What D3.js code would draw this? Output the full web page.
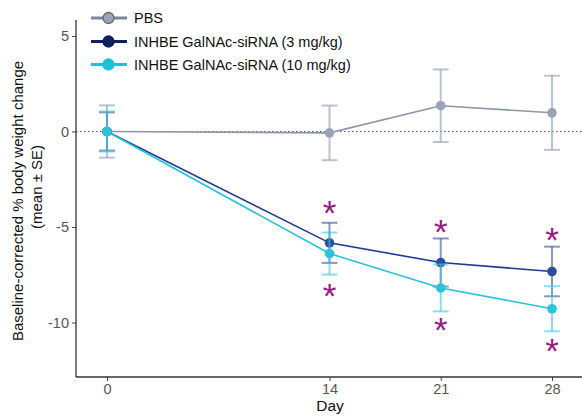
<!DOCTYPE html>
<html><head><meta charset="utf-8">
<script src="https://cdn.jsdelivr.net/npm/d3@7"></script>
<style>body{margin:0;background:#fff}svg{display:block;font-family:"Liberation Sans",Arial,sans-serif}</style>
</head><body><svg id="c" width="582" height="416"></svg>
<script>
const days = [0, 14, 21, 28];
const seriesNames = ["PBS", "INHBE GalNAc-siRNA (3 mg/kg)", "INHBE GalNAc-siRNA (10 mg/kg)"];
const pbsMean = [0, -0.07, 1.35, 0.98];
const pbsSE = [1.37, 1.43, 1.9, 1.94];
const lowMean = [0, -5.83, -6.86, -7.33];
const lowSE = [1.0, 1.05, 1.26, 1.3];
const highMean = [0, -6.39, -8.19, -9.28];
const highSE = [1.05, 1.1, 1.23, 1.18];
const yTicks = [-10, -5, 0, 5];
const xTicks = [0, 14, 21, 28];
const sigAbove = [null, -3.85, -4.82, -5.29];   // asterisk positions (3 mg/kg)
const sigBelow = [null, -8.2, -10.0, -11.05];   // asterisk positions (10 mg/kg)

const styles = [
  {line:"#8d97ab", bar:"rgba(150,162,185,0.65)", pt:"#9aa3b6", legFill:"#9aa5b8", legStroke:"#5d6679"},
  {line:"#1d3a8f", bar:"rgba(55,80,150,0.6)", pt:"#2a4f9f", legFill:"#0c1f5f", legStroke:"#0c1f5f"},
  {line:"#25c3dc", bar:"rgba(60,200,225,0.6)", pt:"#2cc4dc", legFill:"#18c3da", legStroke:"#18c3da"}
];
const means = [pbsMean, lowMean, highMean];
const ses = [pbsSE, lowSE, highSE];

const svg = d3.select("#c");
const x = d3.scaleLinear().domain([0, 28]).range([107, 552]);
const y = d3.scaleLinear().domain([-10, 5]).range([322.5, 36]);
const xLeft = 76, xRight = 582, yTop = 20, yBottom = 377;

// zero dotted reference
svg.append("line").attr("x1", xLeft).attr("x2", xRight).attr("y1", y(0)).attr("y2", y(0))
  .attr("stroke", "#555").attr("stroke-width", 1.2).attr("stroke-dasharray", "1.5,2.5");

// axes
const ya = svg.append("g").attr("transform", `translate(${xLeft},0)`)
  .call(d3.axisLeft(y).tickValues(yTicks).tickSize(4).tickPadding(3).tickFormat(d => d));
ya.select(".domain").remove();
ya.selectAll("line").attr("stroke", "#444");
ya.selectAll("text").attr("fill", "#555").attr("font-size", 14.5).attr("font-family", "Liberation Sans, Arial, sans-serif");
svg.append("line").attr("x1", xLeft).attr("x2", xLeft).attr("y1", yTop).attr("y2", yBottom).attr("stroke", "#333").attr("stroke-width", 1.3);

const xa = svg.append("g").attr("transform", `translate(0,${yBottom})`)
  .call(d3.axisBottom(x).tickValues(xTicks).tickSize(4).tickPadding(3).tickFormat(d => d));
xa.select(".domain").remove();
xa.selectAll("line").attr("stroke", "#444");
xa.selectAll("text").attr("fill", "#555").attr("font-size", 14.5).attr("font-family", "Liberation Sans, Arial, sans-serif");
svg.append("line").attr("x1", xLeft).attr("x2", xRight).attr("y1", yBottom).attr("y2", yBottom).attr("stroke", "#333").attr("stroke-width", 1.3);

// axis titles
svg.append("text").attr("x", 330).attr("y", 411).attr("text-anchor", "middle").attr("font-size", 15.5).attr("fill", "#111").text("Day");
svg.append("text").attr("transform", "translate(23,201) rotate(-90)").attr("text-anchor", "middle")
  .attr("font-size", 15).attr("fill", "#111").text("Baseline-corrected % body weight change");
svg.append("text").attr("transform", "translate(42,187) rotate(-90)").attr("text-anchor", "middle")
  .attr("font-size", 15).attr("fill", "#111").text("(mean ± SE)");

// series
const capHalf = 0.5;
const line = d3.line().x(d => x(d[0])).y(d => y(d[1]));
means.forEach((m, si) => {
  const g = svg.append("g");
  const st = styles[si];
  const pts = days.map((d, i) => [d, m[i], ses[si][i]]);
  pts.forEach(p => {
    g.append("line").attr("x1", x(p[0])).attr("x2", x(p[0])).attr("y1", y(p[1] - p[2])).attr("y2", y(p[1] + p[2]))
      .attr("stroke", st.bar).attr("stroke-width", 2);
    [p[1] - p[2], p[1] + p[2]].forEach(v => {
      g.append("line").attr("x1", x(p[0] - capHalf)).attr("x2", x(p[0] + capHalf)).attr("y1", y(v)).attr("y2", y(v))
        .attr("stroke", st.bar).attr("stroke-width", 2);
    });
  });
  g.append("path").datum(pts).attr("d", line).attr("fill", "none").attr("stroke", st.line).attr("stroke-width", 1.6);
  g.selectAll("circle").data(pts).join("circle").attr("cx", d => x(d[0])).attr("cy", d => y(d[1])).attr("r", 4.8)
    .attr("fill", st.pt);
});

// significance asterisks
const fs = 35;
[sigAbove, sigBelow].forEach(arr => {
  arr.forEach((v, i) => {
    if (v === null) return;
    svg.append("text").attr("x", x(days[i])).attr("y", y(v) + 0.57 * fs).attr("text-anchor", "middle")
      .attr("font-size", fs).attr("fill", "#98197f").text("*");
  });
});

// legend
const legY = [18, 41.5, 64.5];
seriesNames.forEach((n, i) => {
  const st = styles[i];
  svg.append("line").attr("x1", 91).attr("x2", 127).attr("y1", legY[i]).attr("y2", legY[i])
    .attr("stroke", i === 0 ? "#7c869a" : st.legFill).attr("stroke-width", 3);
  svg.append("circle").attr("cx", 108.5).attr("cy", legY[i]).attr("r", 5.5)
    .attr("fill", st.legFill).attr("stroke", st.legStroke).attr("stroke-width", 1.3);
  svg.append("text").attr("x", 134).attr("y", legY[i]).attr("dy", "0.35em").attr("font-size", 14.5).attr("fill", "#111").text(n);
});
</script></body></html>
